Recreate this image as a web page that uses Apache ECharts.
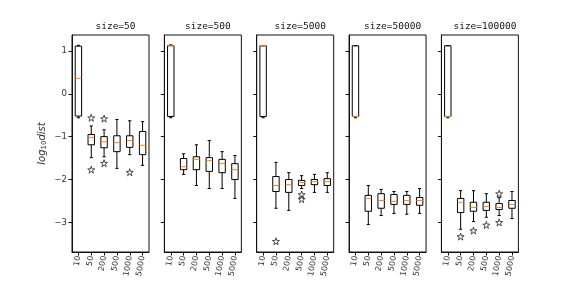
<!DOCTYPE html>
<html><head><meta charset="utf-8">
<script src="https://cdn.jsdelivr.net/npm/echarts@6/dist/echarts.min.js"></script>
<style>html,body{margin:0;padding:0;background:#fff}#c{width:576px;height:288px}</style>
</head><body><div id="c"></div>
<script>
const categories = ['10','50','200','500','1000','5000'];
const panelTitles = ['size=50','size=500','size=5000','size=50000','size=100000'];
const yTickValues = [-3,-2,-1,0,1];
const yMin = -3.69, yMax = 1.37;

// [min(whisker), q1, median, q3, max(whisker)] per category
const stats50 = [
 [-0.56,-0.52,0.36,1.11,1.13],
 [-1.49,-1.19,-1.02,-0.95,-0.75],
 [-1.47,-1.26,-1.12,-1.00,-0.84],
 [-1.74,-1.35,-1.14,-0.98,-0.60],
 [-1.42,-1.25,-1.09,-0.98,-0.63],
 [-1.67,-1.42,-1.20,-0.88,-0.65]];
const outliers50 = [[1,-0.56],[1,-1.77],[2,-0.58],[2,-1.62],[4,-1.83]];

const stats500 = [
 [-0.56,-0.53,1.12,1.12,1.14],
 [-1.88,-1.77,-1.70,-1.51,-1.40],
 [-2.14,-1.77,-1.53,-1.47,-1.19],
 [-2.21,-1.81,-1.56,-1.49,-1.09],
 [-2.21,-1.84,-1.63,-1.53,-1.35],
 [-2.44,-2.00,-1.77,-1.63,-1.44]];
const outliers500 = [];

const stats5000 = [
 [-0.56,-0.53,1.12,1.12,1.12],
 [-2.67,-2.28,-2.14,-1.93,-1.60],
 [-2.72,-2.30,-2.12,-2.00,-1.84],
 [-2.21,-2.14,-2.07,-2.02,-1.91],
 [-2.30,-2.12,-2.05,-2.00,-1.88],
 [-2.30,-2.14,-2.05,-1.98,-1.84]];
const outliers5000 = [[1,-3.44],[3,-2.35],[3,-2.46]];

const stats50000 = [
 [-0.56,-0.53,-0.53,1.12,1.12],
 [-3.05,-2.74,-2.44,-2.37,-2.14],
 [-2.84,-2.67,-2.49,-2.33,-2.23],
 [-2.79,-2.58,-2.51,-2.35,-2.28],
 [-2.81,-2.58,-2.49,-2.37,-2.28],
 [-2.79,-2.60,-2.49,-2.42,-2.21]];
const outliers50000 = [];

const stats100000 = [
 [-0.56,-0.53,-0.53,1.12,1.12],
 [-3.16,-2.77,-2.53,-2.44,-2.26],
 [-2.98,-2.74,-2.65,-2.53,-2.26],
 [-2.88,-2.72,-2.63,-2.53,-2.33],
 [-2.84,-2.70,-2.65,-2.56,-2.42],
 [-2.91,-2.67,-2.58,-2.49,-2.28]];
const outliers100000 = [[1,-3.33],[2,-3.19],[3,-3.06],[4,-2.33],[4,-3.00]];

const allStats = [stats50, stats500, stats5000, stats50000, stats100000];
const allOutliers = [outliers50, outliers500, outliers5000, outliers50000, outliers100000];

const chart = echarts.init(document.getElementById('c'), null, {renderer:'canvas'});
const gridLeft0 = 72, gridStep = 92.35, gridW = 77, gridTop = 35, gridH = 217;
const starPath = 'path://M0,-1 L0.2245,-0.309 L0.951,-0.309 L0.363,0.118 L0.588,0.809 L0,0.382 L-0.588,0.809 L-0.363,0.118 L-0.951,-0.309 L-0.2245,-0.309 Z';
const fmtMinus = v => String(v).replace('-', '\u2212');

const grids=[], xAxes=[], yAxes=[], titles=[], series=[];
for (let p=0;p<5;p++){
  const left = gridLeft0 + p*gridStep;
  grids.push({left:left, top:gridTop, width:gridW, height:gridH, show:true, borderColor:'#111', borderWidth:1, containLabel:false});
  titles.push({text:panelTitles[p], left:left+gridW/2, top:17, textAlign:'center',
    textStyle:{fontFamily:'DejaVu Sans Mono', fontSize:9.5, fontWeight:'normal', color:'#111'}});
  xAxes.push({type:'category', gridIndex:p, data:categories, boundaryGap:true,
    axisLine:{show:true, onZero:false, lineStyle:{color:'#111', width:1}},
    axisTick:{show:true, alignWithLabel:true, length:3.5, lineStyle:{color:'#111'}},
    axisLabel:{rotate:80, fontSize:8, color:'#333', margin:4, fontFamily:'DejaVu Sans', interval:0},
    splitLine:{show:false}});
  const ya = {type:'value', gridIndex:p, min:yMin, max:yMax,
    axisLine:{show:true, lineStyle:{color:'#111', width:1}},
    axisTick:{show:true, length:3.5, lineStyle:{color:'#111'}, customValues:yTickValues},
    axisLabel:{show:p===0, fontSize:8.5, color:'#333', margin:5, fontFamily:'DejaVu Sans', customValues:yTickValues, formatter:fmtMinus},
    splitLine:{show:false}};
  if (p===0){
    ya.name = '{a|log}{b|10}{a|dist}';
    ya.nameLocation = 'middle';
    ya.nameRotate = 90;
    ya.nameGap = 24;
    ya.nameTextStyle = {rich:{
      a:{fontSize:10, fontStyle:'italic', fontFamily:'DejaVu Sans', color:'#333'},
      b:{fontSize:7, fontFamily:'DejaVu Sans', color:'#333', padding:[4,0,0,0]}
    }};
  }
  yAxes.push(ya);

  const boxData = allStats[p].map((s,i)=>[i, s[0], s[1], s[2], s[3], s[4]]);
  series.push({type:'custom', xAxisIndex:p, yAxisIndex:p, data:boxData,
    encode:{x:0, y:[1,2,3,4,5]},
    renderItem:function(params, api){
      const c = api.value(0);
      const band = api.size([1,0])[0];
      const bw = band*0.5, cw = band*0.25;
      const pMin = api.coord([c, api.value(1)]);
      const pQ1 = api.coord([c, api.value(2)]);
      const pMed = api.coord([c, api.value(3)]);
      const pQ3 = api.coord([c, api.value(4)]);
      const pMax = api.coord([c, api.value(5)]);
      const x = pMin[0];
      const st = {stroke:'#000', lineWidth:1, fill:null};
      return {type:'group', children:[
        {type:'line', shape:{x1:x,y1:pMin[1],x2:x,y2:pQ1[1]}, style:st},
        {type:'line', shape:{x1:x,y1:pQ3[1],x2:x,y2:pMax[1]}, style:st},
        {type:'line', shape:{x1:x-cw/2,y1:pMin[1],x2:x+cw/2,y2:pMin[1]}, style:st},
        {type:'line', shape:{x1:x-cw/2,y1:pMax[1],x2:x+cw/2,y2:pMax[1]}, style:st},
        {type:'rect', shape:{x:x-bw/2, y:pQ3[1], width:bw, height:pQ1[1]-pQ3[1]}, style:{stroke:'#000', lineWidth:1, fill:'none'}},
        {type:'line', shape:{x1:x-bw/2,y1:pMed[1],x2:x+bw/2,y2:pMed[1]}, style:{stroke:'#ff7f0e', lineWidth:1}}
      ]};
    }, z:2});
  series.push({type:'scatter', xAxisIndex:p, yAxisIndex:p, data:allOutliers[p],
    symbol:starPath, symbolSize:7,
    itemStyle:{color:'#fff', borderColor:'#222', borderWidth:1}, z:3, silent:true});
}

chart.setOption({animation:false, backgroundColor:'#fff', title:titles, grid:grids, xAxis:xAxes, yAxis:yAxes, series:series});
</script></body></html>
